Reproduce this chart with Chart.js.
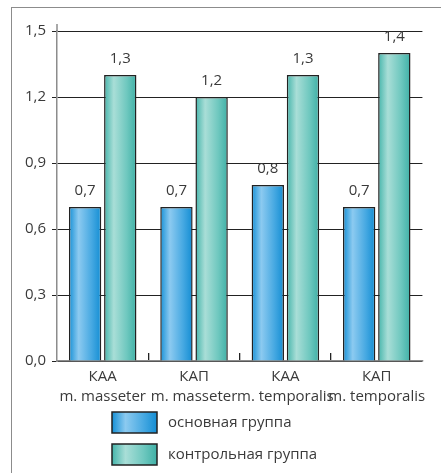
<!DOCTYPE html>
<html>
<head>
<meta charset="utf-8">
<script src="https://cdn.jsdelivr.net/npm/chart.js@4.4.1/dist/chart.umd.min.js"></script>
<style>
  html, body { margin: 0; padding: 0; background: #fff; }
  #wrap { position: relative; width: 441px; height: 473px; overflow: hidden; }
  #frame { position: absolute; left: 11px; top: 7px; width: 440px; height: 480px;
           border-top: 1.5px solid #8c8c8c; border-left: 1.5px solid #8c8c8c; box-sizing: border-box; }
  canvas { position: absolute; left: 0; top: 0; }
</style>
</head>
<body>
<div id="wrap">
  <div id="frame"></div>
  <canvas id="c" width="441" height="473"></canvas>
</div>
<script>
// Categories: index / muscle
const categories = [
  ['КАА', 'm. masseter'],
  ['КАП', 'm. masseter'],
  ['КАА', 'm. temporalis'],
  ['КАП', 'm. temporalis']
];
const seriesNames = ['основная группа', 'контрольная группа'];
const mainGroup = [0.7, 0.7, 0.8, 0.7];
const controlGroup = [1.3, 1.2, 1.3, 1.4];
const yTicks = [0, 0.3, 0.6, 0.9, 1.2, 1.5];

const FONT = '"Open Sans", "Noto Sans", sans-serif';
const FSIZE = 15;
const TEXT = '#3a3a3a';

// horizontal cylinder-like shading for each series
const shades = [
  ['#1590d6', '#8ccaf0', '#47a9e2', '#138dd3'],
  ['#45b5ab', '#a9ded7', '#6fc8bf', '#3fb0a6']
];
function barGradient(ctx, x0, x1, di) {
  const g = ctx.createLinearGradient(x0, 0, x1, 0);
  const s = shades[di];
  g.addColorStop(0, s[0]);
  g.addColorStop(0.3, s[1]);
  g.addColorStop(0.7, s[2]);
  g.addColorStop(1, s[3]);
  return g;
}
const fmt = v => v.toFixed(1).replace('.', ',');

// each bar gets its own gradient spanning its own width
const shadingPlugin = {
  id: 'shading',
  beforeDatasetsDraw(chart) {
    const ctx = chart.ctx;
    chart.data.datasets.forEach((ds, di) => {
      chart.getDatasetMeta(di).data.forEach(bar => {
        const x0 = bar.x - bar.width / 2, x1 = bar.x + bar.width / 2;
        bar.options = Object.assign({}, bar.options, { backgroundColor: barGradient(ctx, x0, x1, di) });
      });
    });
  }
};

const valueLabels = {
  id: 'valueLabels',
  afterDatasetsDraw(chart) {
    const ctx = chart.ctx;
    ctx.save();
    ctx.font = FSIZE + 'px ' + FONT;
    ctx.fillStyle = TEXT;
    ctx.textAlign = 'center';
    ctx.textBaseline = 'middle';
    chart.data.datasets.forEach((ds, di) => {
      chart.getDatasetMeta(di).data.forEach((bar, i) => {
        ctx.fillText(fmt(ds.data[i]), bar.x, bar.y - 16);
      });
    });
    ctx.restore();
  }
};

const axisExtra = {
  id: 'axisExtra',
  afterDraw(chart) {
    const ctx = chart.ctx, a = chart.chartArea;
    ctx.save();
    ctx.strokeStyle = '#8c8c8c';
    ctx.lineWidth = 1.5;
    ctx.beginPath();
    ctx.moveTo(a.left, a.top - 7);
    ctx.lineTo(a.left, a.top);
    ctx.stroke();
    ctx.restore();
  }
};

// stacked legend under the axis
const stackedLegend = {
  id: 'stackedLegend',
  afterDraw(chart) {
    const ctx = chart.ctx;
    const boxX = 112, boxW = 45, boxH = 21, rowY = [412, 444];
    ctx.save();
    chart.data.datasets.forEach((ds, di) => {
      const y = rowY[di];
      ctx.fillStyle = barGradient(ctx, boxX, boxX + boxW, di);
      ctx.fillRect(boxX, y, boxW, boxH);
      ctx.strokeStyle = '#222';
      ctx.lineWidth = 1.5;
      ctx.strokeRect(boxX, y, boxW, boxH);
      ctx.font = FSIZE + 'px ' + FONT;
      ctx.fillStyle = TEXT;
      ctx.textAlign = 'left';
      ctx.textBaseline = 'middle';
      ctx.fillText(ds.label, boxX + boxW + 11, y + boxH / 2);
    });
    ctx.restore();
  }
};

new Chart(document.getElementById('c'), {
  type: 'bar',
  data: {
    labels: categories,
    datasets: [
      { label: seriesNames[0], data: mainGroup, borderColor: '#222', borderWidth: 1.5, backgroundColor: c => shades[c.datasetIndex][0] },
      { label: seriesNames[1], data: controlGroup, borderColor: '#222', borderWidth: 1.5, backgroundColor: c => shades[c.datasetIndex][0] }
    ]
  },
  options: {
    responsive: false,
    animation: false,
    events: [],
    categoryPercentage: 0.77,
    barPercentage: 0.92,
    layout: { padding: { top: 31, left: 0, right: 15, bottom: 68 } },
    plugins: { legend: { display: false }, tooltip: { enabled: false } },
    scales: {
      x: {
        grid: {
          offset: true,
          drawOnChartArea: false,
          drawTicks: true,
          tickLength: -8,
          lineWidth: 1.3,
          color: c => (c.index > 0 ? '#222' : 'rgba(0,0,0,0)')
        },
        border: { color: '#8c8c8c', width: 1.5 },
        ticks: { color: TEXT, font: { family: FONT, size: FSIZE, lineHeight: 1.3 }, padding: 14, maxRotation: 0, autoSkip: false },
        afterFit: s => { s.height = 44; }
      },
      y: {
        min: 0,
        max: 1.5,
        afterBuildTicks: s => { s.ticks = yTicks.map(v => ({ value: v })); },
        grid: { color: '#222', lineWidth: 1, tickLength: 5, drawTicks: true },
        border: { color: '#8c8c8c', width: 1.5 },
        ticks: { color: TEXT, font: { family: FONT, size: FSIZE }, padding: 6, callback: v => fmt(v) },
        afterFit: s => { s.width = 57; }
      }
    }
  },
  plugins: [shadingPlugin, valueLabels, axisExtra, stackedLegend]
});
</script>
</body>
</html>
